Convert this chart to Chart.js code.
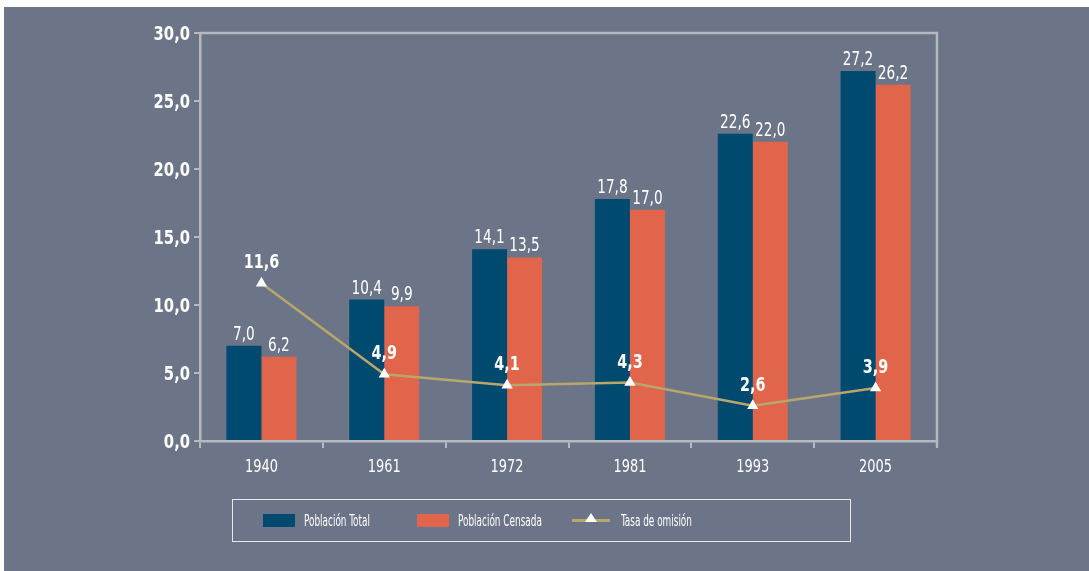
<!DOCTYPE html>
<html>
<head>
<meta charset="utf-8">
<script src="https://cdn.jsdelivr.net/npm/chart.js@4.4.1/dist/chart.umd.min.js"></script>
<style>
  html, body { margin: 0; padding: 0; background: #fff; }
  body { width: 1089px; height: 571px; position: relative; overflow: hidden; }
  .panel { position: absolute; left: 4px; top: 7px; right: 0; bottom: 0; background: #6b7587; }
  #wrap { position: absolute; left: 0; top: 0; width: 1089px; height: 571px; }
  .legend {
    position: absolute; left: 232px; top: 499px; width: 619px; height: 43px;
    border: 1px solid #e6e8ec; box-sizing: border-box;
    font-family: 'DejaVu Sans Condensed', 'DejaVu Sans', sans-serif;
    font-size: 15px; color: #fff;
  }
  .legend .it { position: absolute; top: 0; height: 41px; display: flex; align-items: center; white-space: nowrap; }
  .legend .sw { width: 32px; height: 13px; margin-right: 9px; flex: none; }
  .legend .ln { width: 38px; height: 3px; margin-right: 11px; position: relative; flex: none; }
  .legend .ln:after {
    content: ''; position: absolute; left: 13px; top: -6px;
    border-left: 6px solid transparent; border-right: 6px solid transparent; border-bottom: 9px solid #fff;
  }
  .legend .tx { display: inline-block; transform: scaleX(0.66); transform-origin: 0 50%; }
</style>
</head>
<body>
<div class="panel"></div>
<div id="wrap"><canvas id="myChart" width="1089" height="571"></canvas></div>
<div class="legend" id="legend"></div>
<script>
var years = ['1940', '1961', '1972', '1981', '1993', '2005'];
var poblacionTotal = [7.0, 10.4, 14.1, 17.8, 22.6, 27.2];
var poblacionCensada = [6.2, 9.9, 13.5, 17.0, 22.0, 26.2];
var tasaOmision = [11.6, 4.9, 4.1, 4.3, 2.6, 3.9];
var yTicks = [0, 5, 10, 15, 20, 25, 30];

var navy = '#004a70';
var orange = '#e0654a';
var khaki = '#b9a66c';
var axisColor = '#b6b9bf';
var fontFam = "'DejaVu Sans Condensed', 'DejaVu Sans', sans-serif";

function fmt(v) { return v.toFixed(1).replace('.', ','); }

// legend
var legendItems = [
  { label: 'Población Total', type: 'box', color: navy, left: 30 },
  { label: 'Población Censada', type: 'box', color: orange, left: 184 },
  { label: 'Tasa de omisión', type: 'line', color: khaki, left: 339 }
];
var lg = document.getElementById('legend');
legendItems.forEach(function(it){
  var d = document.createElement('div');
  d.className = 'it';
  d.style.left = it.left + 'px';
  var s = document.createElement('span');
  s.className = it.type == 'box' ? 'sw' : 'ln';
  s.style.background = it.color;
  d.appendChild(s);
  var t = document.createElement('span');
  t.className = 'tx';
  t.textContent = it.label;
  d.appendChild(t);
  lg.appendChild(d);
});

// narrow text, the original uses a condensed face
function narrowText(ctx, txt, x, y, font, sx, align) {
  ctx.save();
  ctx.font = font;
  ctx.translate(x, y);
  ctx.scale(sx, 1);
  ctx.textAlign = align || 'center';
  ctx.fillText(txt, 0, 0);
  ctx.restore();
}

var labelsPlugin = {
  id: 'valueLabels',
  afterDatasetsDraw: function(chart) {
    var ctx = chart.ctx;
    var a = chart.chartArea;
    ctx.save();
    // top and right frame
    ctx.strokeStyle = axisColor;
    ctx.lineWidth = 2.5;
    ctx.beginPath();
    ctx.moveTo(a.left, a.top);
    ctx.lineTo(a.right, a.top);
    ctx.lineTo(a.right, a.bottom + 6);
    ctx.stroke();

    ctx.fillStyle = '#fff';
    ctx.textBaseline = 'alphabetic';

    // y tick labels
    var ys = chart.scales.y;
    ys.ticks.forEach(function(t) {
      narrowText(ctx, fmt(t.value), a.left - 10, ys.getPixelForValue(t.value) + 7, '600 20px ' + fontFam, 0.82, 'right');
    });
    // x tick labels
    var xs = chart.scales.x;
    years.forEach(function(y, i) {
      narrowText(ctx, y, xs.getPixelForValue(i), a.bottom + 31, '18px ' + fontFam, 0.8, 'center');
    });

    // value labels
    chart.data.datasets.forEach(function(ds, i) {
      var meta = chart.getDatasetMeta(i);
      meta.data.forEach(function(el, j) {
        if (ds.type == 'line') {
          narrowText(ctx, fmt(ds.data[j]), el.x, el.y - 15, '600 20px ' + fontFam, 0.8, 'center');
        } else {
          narrowText(ctx, fmt(ds.data[j]), el.x, el.y - 6, '19px ' + fontFam, 0.8, 'center');
        }
      });
    });
    ctx.restore();
  }
};

var ctx = document.getElementById('myChart');
var chart = new Chart(ctx, {
  data: {
    labels: years,
    datasets: [
      {
        type: 'line',
        label: 'Tasa de omisión',
        data: tasaOmision,
        borderColor: khaki,
        borderWidth: 2.5,
        pointStyle: 'triangle',
        pointRadius: 6.5,
        pointBackgroundColor: '#fff',
        pointBorderColor: '#fff',
        pointBorderWidth: 0,
        order: 0
      },
      {
        type: 'bar',
        label: 'Población Total',
        data: poblacionTotal,
        backgroundColor: navy,
        categoryPercentage: 0.57,
        barPercentage: 1.0,
        order: 1
      },
      {
        type: 'bar',
        label: 'Población Censada',
        data: poblacionCensada,
        backgroundColor: orange,
        categoryPercentage: 0.57,
        barPercentage: 1.0,
        order: 1
      }
    ]
  },
  options: {
    responsive: false,
    animation: false,
    layout: { padding: { left: 0, top: 33, right: 152, bottom: 90 } },
    plugins: {
      legend: { display: false },
      tooltip: { enabled: false }
    },
    scales: {
      x: {
        afterFit: function(s) { s.height = 40; },
        border: { color: axisColor, width: 2.5 },
        grid: { display: true, offset: true, drawOnChartArea: false, drawTicks: true, tickLength: 7, color: axisColor, lineWidth: 2 },
        ticks: { display: false }
      },
      y: {
        min: 0,
        max: 30,
        afterFit: function(s) { s.width = 200; },
        afterBuildTicks: function(s) { s.ticks = yTicks.map(function(v){ return { value: v }; }); },
        border: { color: axisColor, width: 2.5 },
        grid: { display: true, drawOnChartArea: false, drawTicks: true, tickLength: 6, color: axisColor, lineWidth: 2 },
        ticks: { display: false }
      }
    }
  },
  plugins: [labelsPlugin]
});
</script>
</body>
</html>
